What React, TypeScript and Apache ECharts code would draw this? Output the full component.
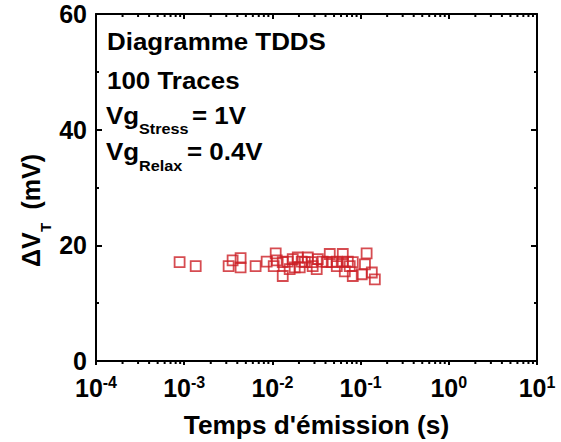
import React, { useEffect, useRef } from "react";
import * as echarts from "echarts";

// Emission time (s) and threshold-voltage shift (mV) of the TDDS traces
const emissionTimes: number[] = [
  8.87e-4, 1.35e-3, 3.19e-3, 3.54e-3, 4.36e-3, 4.36e-3, 6.45e-3, 8.61e-3,
  1.09e-2, 1.035e-2, 1.31e-2, 1.12e-2, 1.31e-2, 1.49e-2, 1.7e-2, 1.79e-2,
  1.94e-2, 2.15e-2, 2.33e-2, 2.52e-2, 2.79e-2, 3.18e-2, 3.27e-2, 3.72e-2,
  4.13e-2, 4.47e-2, 4.71e-2, 5.37e-2, 6.28e-2, 6.28e-2, 6.62e-2, 7.16e-2,
  7.53e-2, 8.15e-2, 1.03e-1, 1.17e-1, 1.12e-1, 1.34e-1, 1.45e-1, 1.57e-2,
  2.04e-2, 2.86e-2, 5.37e-2, 8.15e-2,
];
const deltaVt: number[] = [
  17.1, 16.4, 16.4, 17.4, 17.8, 16.2, 16.4, 17.2,
  18.6, 16.4, 14.7, 17.4, 17.1, 17.2, 17.6, 16.2,
  17.9, 17.2, 17.1, 17.9, 17.1, 15.9, 17.6, 17.2,
  17.1, 18.5, 17.1, 17.2, 18.5, 17.1, 15.5, 17.2,
  16.4, 14.7, 15.0, 18.6, 16.7, 15.3, 14.1, 15.9,
  16.2, 16.4, 16.4, 17.1,
];

const xMin = 1e-4;
const xMax = 10;
const yMin = 0;
const yMax = 60;
const yInterval = 20;

// minor log ticks 2..9 within each decade
const decades: number[] = [1e-4, 1e-3, 1e-2, 1e-1, 1e0];
const minorMultipliers: number[] = [2, 3, 4, 5, 6, 7, 8, 9];

const FONT = '"Liberation Sans", Arial, sans-serif';
const RED = "#cc1f26";

export default function App() {
  const ref = useRef<HTMLDivElement>(null);
  useEffect(() => {
    if (!ref.current) return;
    const chart = echarts.init(ref.current, null, { renderer: "svg" });
    const scatterData = emissionTimes.map((t, i) => [t, deltaVt[i]]);
    const minorTicks: number[][] = [];
    decades.forEach((d) => minorMultipliers.forEach((m) => minorTicks.push([d * m, 0])));

    const axisLine = { show: true, onZero: false, lineStyle: { color: "#000", width: 2 } };
    const bold = (size: number) => ({
      fontFamily: FONT,
      fontWeight: "bold" as const,
      fontSize: size,
      color: "#000",
    });
    const SX = 1.08;
    const ann = (text: string, x: number, y: number, size: number) => ({
      type: "text",
      x,
      y,
      scaleX: SX,
      style: { text, font: `bold ${size}px ${FONT}`, fill: "#000", verticalAlign: "middle" },
    });

    chart.setOption({
      animation: false,
      backgroundColor: "#fff",
      grid: { left: 96, right: 24, top: 14, bottom: 81, containLabel: false },
      xAxis: [
        {
          type: "log",
          logBase: 10,
          min: xMin,
          max: xMax,
          splitNumber: 5,
          position: "bottom",
          axisLine,
          axisTick: { show: true, inside: false, length: 4, lineStyle: { color: "#000", width: 2 } },
          minorTick: { show: false },
          splitLine: { show: false },
          axisLabel: {
            margin: 13,
            formatter: (v: number) => `{b|10}{s|${Math.round(Math.log10(v))}}`,
            rich: {
              b: { ...bold(25), lineHeight: 26, verticalAlign: "bottom" },
              s: { ...bold(16), lineHeight: 15, verticalAlign: "top" },
            },
          },
        },
        {
          type: "log",
          logBase: 10,
          min: xMin,
          max: xMax,
          splitNumber: 5,
          position: "top",
          axisLine,
          axisTick: { show: true, inside: true, length: 5, lineStyle: { color: "#000", width: 2 } },
          axisLabel: { show: false },
          splitLine: { show: false },
        },
      ],
      yAxis: [
        {
          type: "value",
          min: yMin,
          max: yMax,
          interval: yInterval,
          position: "left",
          axisLine,
          axisTick: { show: true, inside: true, length: 6, lineStyle: { color: "#000", width: 2 } },
          minorTick: { show: true, splitNumber: 2, length: 3, lineStyle: { color: "#000", width: 2 } },
          splitLine: { show: false },
          axisLabel: { margin: 9, ...bold(25) },
        },
        {
          type: "value",
          min: yMin,
          max: yMax,
          interval: yInterval,
          position: "right",
          axisLine,
          axisTick: { show: true, inside: true, length: 6, lineStyle: { color: "#000", width: 2 } },
          minorTick: { show: true, splitNumber: 2, length: 3, lineStyle: { color: "#000", width: 2 } },
          splitLine: { show: false },
          axisLabel: { show: false },
        },
      ],
      series: [
        {
          type: "custom",
          xAxisIndex: 0,
          yAxisIndex: 0,
          clip: false,
          silent: true,
          data: minorTicks,
          renderItem: (_params: any, api: any) => {
            const v = api.value(0);
            const b = api.coord([v, yMin]);
            const t = api.coord([v, yMax]);
            const st = { stroke: "#000", lineWidth: 2 };
            return {
              type: "group",
              children: [
                { type: "line", shape: { x1: b[0], y1: b[1], x2: b[0], y2: b[1] + 3 }, style: st },
                { type: "line", shape: { x1: t[0], y1: t[1], x2: t[0], y2: t[1] + 3 }, style: st },
              ],
            };
          },
        },
        {
          type: "scatter",
          xAxisIndex: 0,
          yAxisIndex: 0,
          data: scatterData,
          symbol: "rect",
          symbolSize: 10,
          itemStyle: { color: "rgba(0,0,0,0)", borderColor: RED, borderWidth: 1.8 },
          z: 3,
        },
      ],
      graphic: [
        ann("Diagramme TDDS", 107, 41.5, 24),
        ann("100 Traces", 107, 80, 24),
        ann("Vg", 106, 115.5, 24),
        ann("Stress", 139, 129, 15),
        ann("= 1V", 192, 115.5, 24),
        ann("Vg", 106, 151.7, 24),
        ann("Relax", 139, 166, 15),
        ann("= 0.4V", 187, 151.7, 24),
        {
          type: "group",
          x: 31,
          y: 267,
          rotation: Math.PI / 2,
          children: [
            { type: "text", x: 0, y: 0, style: { text: "ΔV", font: `bold 25px ${FONT}`, fill: "#000", verticalAlign: "middle" } },
            { type: "text", x: 35, y: 14, style: { text: "T", font: `bold 15px ${FONT}`, fill: "#000", verticalAlign: "middle" } },
            { type: "text", x: 113, y: 0, style: { text: "(mV)", font: `bold 25px ${FONT}`, fill: "#000", align: "right", verticalAlign: "middle" } },
          ],
        },
        {
          type: "text",
          x: 316.5,
          y: 425,
          scaleX: 1.05,
          style: { text: "Temps d'émission (s)", font: `bold 25px ${FONT}`, fill: "#000", align: "center", verticalAlign: "middle" },
        },
      ],
    });
    return () => chart.dispose();
  }, []);
  return <div ref={ref} style={{ position: "absolute", left: 0, top: 0, width: 561, height: 442 }} />;
}
